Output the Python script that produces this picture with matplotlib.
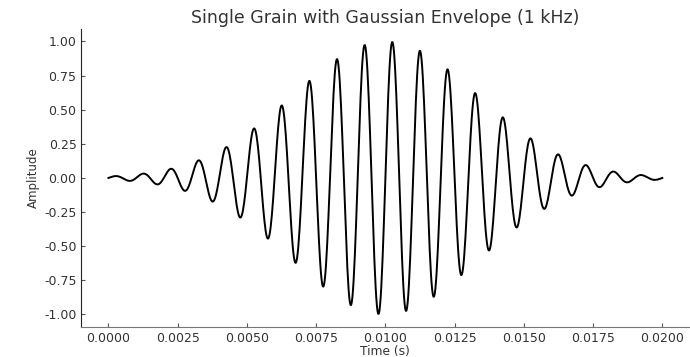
import numpy as np
import matplotlib
matplotlib.use("Agg")
import matplotlib.pyplot as plt

# grain parameters
freq = 1000.0          # Hz (from title)
duration = 0.02        # s
sample_rate = 44100
env_center = 0.01      # s
env_sigma = duration / 6

t = np.linspace(0, duration, int(sample_rate * duration))
envelope = np.exp(-0.5 * ((t - env_center) / env_sigma) ** 2)
grain = np.sin(2 * np.pi * freq * t) * envelope

x_ticks = [0.0, 0.0025, 0.005, 0.0075, 0.01, 0.0125, 0.015, 0.0175, 0.02]
y_ticks = [-1.0, -0.75, -0.5, -0.25, 0.0, 0.25, 0.5, 0.75, 1.0]

txt = "#333333"
fig = plt.figure(figsize=(6.9, 3.57), dpi=100)
ax = fig.add_axes([0.117, 0.083, 0.883, 0.837])
ax.plot(t, grain, color="black", linewidth=1.4)

ax.set_title("Single Grain with Gaussian Envelope (1 kHz)", fontsize=12.5, color=txt, pad=4)
ax.set_xlabel("Time (s)", fontsize=8.8, color=txt, labelpad=0.5)
ax.set_ylabel("Amplitude", fontsize=8.5, color=txt, labelpad=3)
ax.set_xticks(x_ticks)
ax.set_yticks(y_ticks)
ax.xaxis.set_major_formatter(matplotlib.ticker.FormatStrFormatter("%.4f"))
ax.yaxis.set_major_formatter(matplotlib.ticker.FormatStrFormatter("%.2f"))
ax.tick_params(direction="in", length=3, labelsize=9, labelcolor=txt, colors="#555555", pad=3)
for s in ["top", "right"]:
    ax.spines[s].set_visible(False)
ax.spines["left"].set_color("#222222")
ax.spines["bottom"].set_color("#777777")

fig.savefig("out.png", dpi=100)
